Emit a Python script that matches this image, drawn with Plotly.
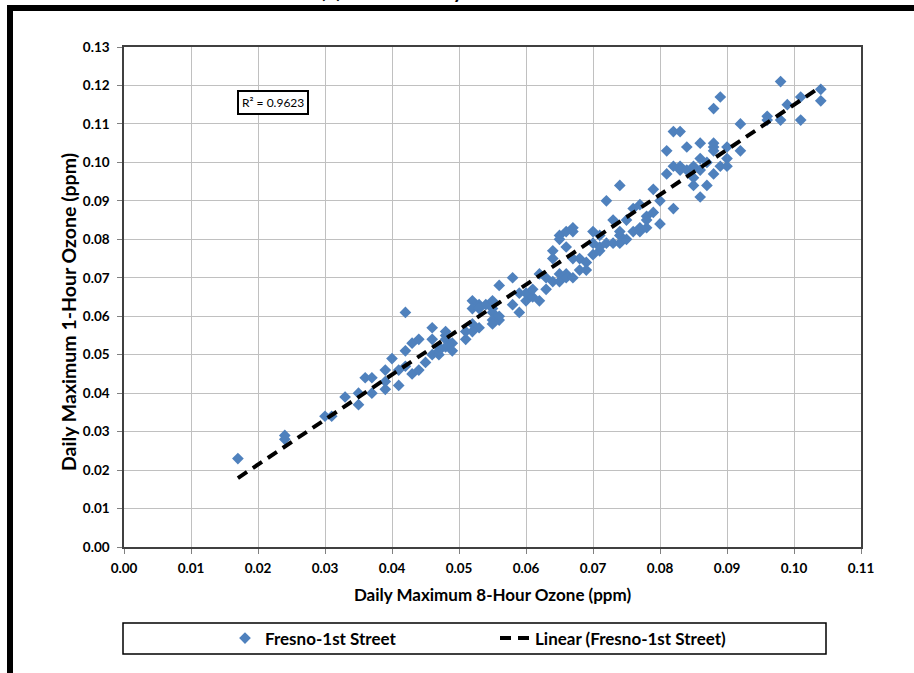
import numpy as np
import plotly.graph_objects as go

# Daily max 8-hour ozone (x) vs daily max 1-hour ozone (y), ppm
x8 = [0.017, 0.024, 0.024, 0.030, 0.031, 0.033, 0.035, 0.035, 0.036, 0.037,
      0.037, 0.039, 0.039, 0.039, 0.041, 0.040, 0.042, 0.041, 0.042, 0.043,
      0.042, 0.043, 0.044, 0.046, 0.044, 0.045, 0.046, 0.046, 0.047, 0.047,
      0.047, 0.048, 0.048, 0.048, 0.048, 0.049, 0.049, 0.051, 0.051, 0.052,
      0.052, 0.053, 0.052, 0.053, 0.052, 0.054, 0.055, 0.055, 0.055, 0.056,
      0.055, 0.055, 0.053, 0.056, 0.056, 0.058, 0.058, 0.059, 0.059, 0.060,
      0.060, 0.061, 0.061, 0.062, 0.063, 0.062, 0.063, 0.064, 0.065, 0.064,
      0.065, 0.066, 0.066, 0.066, 0.067, 0.066, 0.067, 0.065, 0.064, 0.067,
      0.068, 0.069, 0.069, 0.068, 0.067, 0.065, 0.070, 0.071, 0.071, 0.070,
      0.070, 0.071, 0.072, 0.072, 0.073, 0.074, 0.075, 0.074, 0.074, 0.073,
      0.075, 0.074, 0.076, 0.077, 0.077, 0.078, 0.078, 0.078, 0.076, 0.077,
      0.079, 0.079, 0.080, 0.080, 0.082, 0.081, 0.081, 0.082, 0.083, 0.082,
      0.083, 0.083, 0.084, 0.084, 0.085, 0.086, 0.086, 0.087, 0.088, 0.085,
      0.087, 0.085, 0.086, 0.086, 0.088, 0.088, 0.088, 0.088, 0.089, 0.089,
      0.090, 0.090, 0.090, 0.092, 0.092, 0.096, 0.096, 0.098, 0.099, 0.098,
      0.101, 0.101, 0.104, 0.104]
y1 = [0.023, 0.028, 0.029, 0.034, 0.034, 0.039, 0.040, 0.037, 0.044, 0.044,
      0.040, 0.046, 0.041, 0.043, 0.042, 0.049, 0.051, 0.046, 0.061, 0.053,
      0.047, 0.045, 0.054, 0.057, 0.046, 0.048, 0.054, 0.050, 0.050, 0.051,
      0.052, 0.055, 0.056, 0.054, 0.052, 0.053, 0.051, 0.054, 0.056, 0.058,
      0.064, 0.063, 0.062, 0.057, 0.056, 0.063, 0.064, 0.061, 0.059, 0.059,
      0.058, 0.062, 0.062, 0.060, 0.068, 0.070, 0.063, 0.061, 0.066, 0.064,
      0.066, 0.065, 0.067, 0.064, 0.067, 0.071, 0.070, 0.069, 0.071, 0.077,
      0.081, 0.078, 0.071, 0.070, 0.082, 0.082, 0.083, 0.080, 0.075, 0.075,
      0.075, 0.074, 0.072, 0.072, 0.070, 0.069, 0.076, 0.077, 0.078, 0.079,
      0.082, 0.081, 0.079, 0.090, 0.079, 0.079, 0.080, 0.081, 0.082, 0.085,
      0.085, 0.094, 0.082, 0.082, 0.083, 0.083, 0.086, 0.085, 0.088, 0.089,
      0.087, 0.093, 0.090, 0.084, 0.088, 0.097, 0.103, 0.108, 0.108, 0.099,
      0.099, 0.098, 0.098, 0.104, 0.099, 0.101, 0.105, 0.100, 0.097, 0.096,
      0.094, 0.094, 0.091, 0.098, 0.105, 0.104, 0.103, 0.114, 0.117, 0.099,
      0.101, 0.099, 0.104, 0.110, 0.103, 0.112, 0.111, 0.111, 0.115, 0.121,
      0.117, 0.111, 0.119, 0.116]

series_name = "Fresno-1st Street"
trend_name = "Linear (Fresno-1st Street)"
r2_text = "R² = 0.9623"
title_text = "(b) Data for May - October 2008"
x_title = "Daily Maximum 8-Hour Ozone (ppm)"
y_title = "Daily Maximum 1-Hour Ozone (ppm)"

xa = np.array(x8)
ya = np.array(y1)
slope, intercept = np.polyfit(xa, ya, 1)
tx = np.array([xa.min(), xa.max()])
ty = slope * tx + intercept

W, H = 914, 673
L, R, T, B = 124, 53, 47, 126
pw, ph = W - L - R, H - T - B


def px(x):
    return (x - L) / pw


def py(y):
    return (H - B - y) / ph


FONT = "Lato"

fig = go.Figure()
fig.add_trace(go.Scatter(
    x=x8, y=y1, mode="markers", name=series_name,
    marker=dict(symbol="diamond", size=9, color="#4F81BD", line=dict(width=0)),
))
fig.add_trace(go.Scatter(
    x=tx, y=ty, mode="lines", name=trend_name,
    line=dict(color="black", width=4, dash="11px,7px"),
))

axis_common = dict(
    showgrid=True, gridcolor="#c0c0c0", gridwidth=1,
    showline=True, linecolor="#404040", linewidth=1.5, mirror=True,
    ticks="outside", ticklen=5, tickcolor="#808080",
    tickformat=".2f", dtick=0.01, zeroline=False,
    tickfont=dict(family=FONT, size=13.5, color="black", weight="bold"),
)
fig.update_xaxes(range=[0, 0.11], tick0=0, ticklabelstandoff=3, **axis_common,
                 title=dict(text=x_title, standoff=14,
                            font=dict(family=FONT, size=17, color="black", weight="bold")))
fig.update_yaxes(range=[0, 0.13], tick0=0, ticklabelstandoff=5, **axis_common)

shapes = [
    # legend box
    dict(type="rect", xref="paper", yref="paper",
         x0=px(123), x1=px(826), y0=py(654), y1=py(623),
         line=dict(color="black", width=1.5), fillcolor="rgba(0,0,0,0)"),
    # thick frame top and left
    dict(type="rect", xref="paper", yref="paper",
         x0=px(7), x1=px(930), y0=py(11), y1=py(5),
         line=dict(width=0), fillcolor="black", layer="above"),
    dict(type="rect", xref="paper", yref="paper",
         x0=px(7), x1=px(13), y0=py(690), y1=py(5),
         line=dict(width=0), fillcolor="black", layer="above"),
]

annotations = [
    dict(text=r2_text, xref="paper", yref="paper", x=px(272.5), y=py(102.5),
         xanchor="center", yanchor="middle", showarrow=False,
         font=dict(family=FONT, size=12, color="black"),
         bordercolor="black", borderwidth=2, borderpad=3, bgcolor="white"),
    dict(text=title_text, xref="paper", yref="paper", x=px(462), y=py(4),
         xanchor="center", yanchor="bottom", showarrow=False,
         font=dict(family=FONT, size=20, color="black", weight="bold")),
    dict(text=y_title, xref="paper", yref="paper", x=px(68), y=py(312),
         xanchor="center", yanchor="middle", showarrow=False, textangle=-90,
         font=dict(family=FONT, size=19.5, color="black", weight="bold")),
]

fig.update_layout(
    width=W, height=H,
    margin=dict(l=L, r=R, t=T, b=B, pad=0),
    paper_bgcolor="white", plot_bgcolor="white",
    showlegend=True,
    legend=dict(orientation="h", x=px(495), y=py(638.5),
                xanchor="center", yanchor="middle",
                font=dict(family=FONT, size=17, color="black", weight="bold"),
                bgcolor="rgba(0,0,0,0)", borderwidth=0,
                entrywidth=225, entrywidthmode="pixels"),
    shapes=shapes, annotations=annotations,
)

fig.write_html("out.html")
